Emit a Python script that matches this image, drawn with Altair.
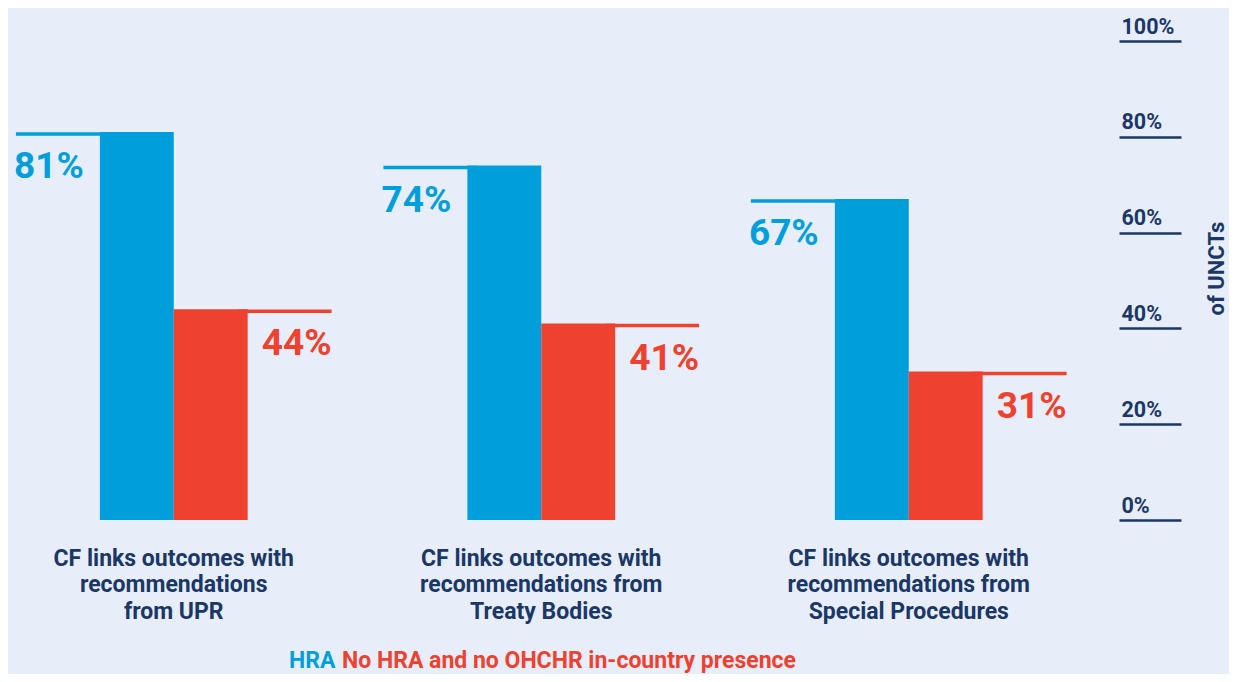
import altair as alt
import pandas as pd

# ---- data ----
categories = [
    "CF links outcomes with\nrecommendations\nfrom UPR",
    "CF links outcomes with\nrecommendations from\nTreaty Bodies",
    "CF links outcomes with\nrecommendations from\nSpecial Procedures",
]
series = ["HRA", "No HRA and no OHCHR in-country presence"]
hra_values = [81, 74, 67]
no_hra_values = [44, 41, 31]
y_ticks = [0, 20, 40, 60, 80, 100]
y_title = "of UNCTs"

# ---- styling ----
BG = "#e7eef9"
BLUE = "#009fdb"
RED = "#ef412f"
NAVY = "#1b3768"
FONT = "Roboto"
series_colors = [BLUE, RED]
LEGEND_FS = 23

bar_slots = ["B1", "B2"]
label_slots = ["L", "R"]
slot_domain = ["L", "B1", "B2", "R"]

rows = []
for i, cat in enumerate(categories):
    for j, (s, vals) in enumerate(zip(series, [hra_values, no_hra_values])):
        rows.append({
            "category": cat,
            "series": s,
            "value": vals[i],
            "bar_slot": bar_slots[j],
            "label_slot": label_slots[j],
        })
df = pd.DataFrame(rows)

x_enc = alt.X(
    "category:N",
    sort=categories,
    title=None,
    scale=alt.Scale(paddingInner=0.09783, paddingOuter=0.0605, align=0),
    axis=alt.Axis(
        orient="bottom", domain=False, ticks=False, tickSize=0, grid=False,
        labelAngle=0, labelPadding=27, labelFontSize=23, labelLineHeight=26.6,
        labelFont=FONT, labelFontWeight="bold", labelColor=NAVY,
        labelBaseline="top", labelLimit=500,
        labelExpr="split(datum.label, '\\n')",
    ),
)
y_enc = alt.Y(
    "value:Q",
    scale=alt.Scale(domain=[0, 100], nice=False),
    axis=alt.Axis(
        orient="right", values=y_ticks, labelExpr="datum.value + '%'",
        domain=False, grid=False, ticks=True, tickSize=62, tickWidth=2.5,
        tickColor=NAVY, labelAlign="left", labelBaseline="alphabetic",
        labelOffset=-8, labelPadding=-60, labelFontSize=21.5, labelFont=FONT,
        labelFontWeight="bold", labelColor=NAVY,
        title=y_title, titleAngle=270, titleX=97, titleY=227,
        titleAlign="center", titleBaseline="middle", titleFontSize=22,
        titleFont=FONT, titleFontWeight="bold", titleColor=NAVY,
    ),
)
color_enc = alt.Color(
    "series:N",
    scale=alt.Scale(domain=series, range=series_colors),
    legend=alt.Legend(
        orient="none", legendX=281, legendY=608, direction="horizontal",
        title=None, symbolSize=0, symbolOpacity=0, symbolStrokeWidth=0,
        symbolType="circle", labelOffset={"expr": f"-{LEGEND_FS}"},
        columnPadding=6,
        labelFontSize=LEGEND_FS, labelFont=FONT, labelFontWeight="bold",
        labelLimit=1000, padding=0,
        labelColor={"expr": f"datum.label == 'HRA' ? '{BLUE}' : '{RED}'"},
    ),
)
slot_scale = alt.Scale(domain=slot_domain, paddingInner=0, paddingOuter=0.24324, align=0.5)
slot_enc = alt.XOffset("label_slot:N", scale=slot_scale)

base = alt.Chart(df)

bars = base.mark_bar(opacity=1).encode(
    x=x_enc,
    xOffset=alt.XOffset("bar_slot:N", scale=slot_scale),
    y=y_enc,
    color=color_enc,
)

layers = [bars]
text_align = ["left", "right"]
text_dx = [-49, 47]
for j, s in enumerate(series):
    sub = base.transform_filter(alt.datum.series == s).transform_calculate(
        label="datum.value + '%'"
    )
    line = sub.mark_tick(
        orient="horizontal", thickness=3.5, size=94, opacity=1, yOffset=2,
        color=series_colors[j],
    ).encode(x=x_enc, xOffset=slot_enc, y=y_enc)
    txt = sub.mark_text(
        align=text_align[j], dx=text_dx[j], baseline="alphabetic", dy=46,
        fontSize=37, font=FONT, fontWeight="bold", opacity=1,
        color=series_colors[j],
    ).encode(x=x_enc, xOffset=slot_enc, y=y_enc, text="label:N")
    layers += [line, txt]

chart = alt.layer(*layers).properties(
    width=1111,
    height=479,
    background=BG,
    padding={"left": 0, "top": 33, "right": 110, "bottom": 154},
    autosize=alt.AutoSizeParams(type="none"),
).configure(font=FONT).configure_view(stroke=None)

chart.save("out.html", embed_options={"renderer": "svg", "actions": False})
